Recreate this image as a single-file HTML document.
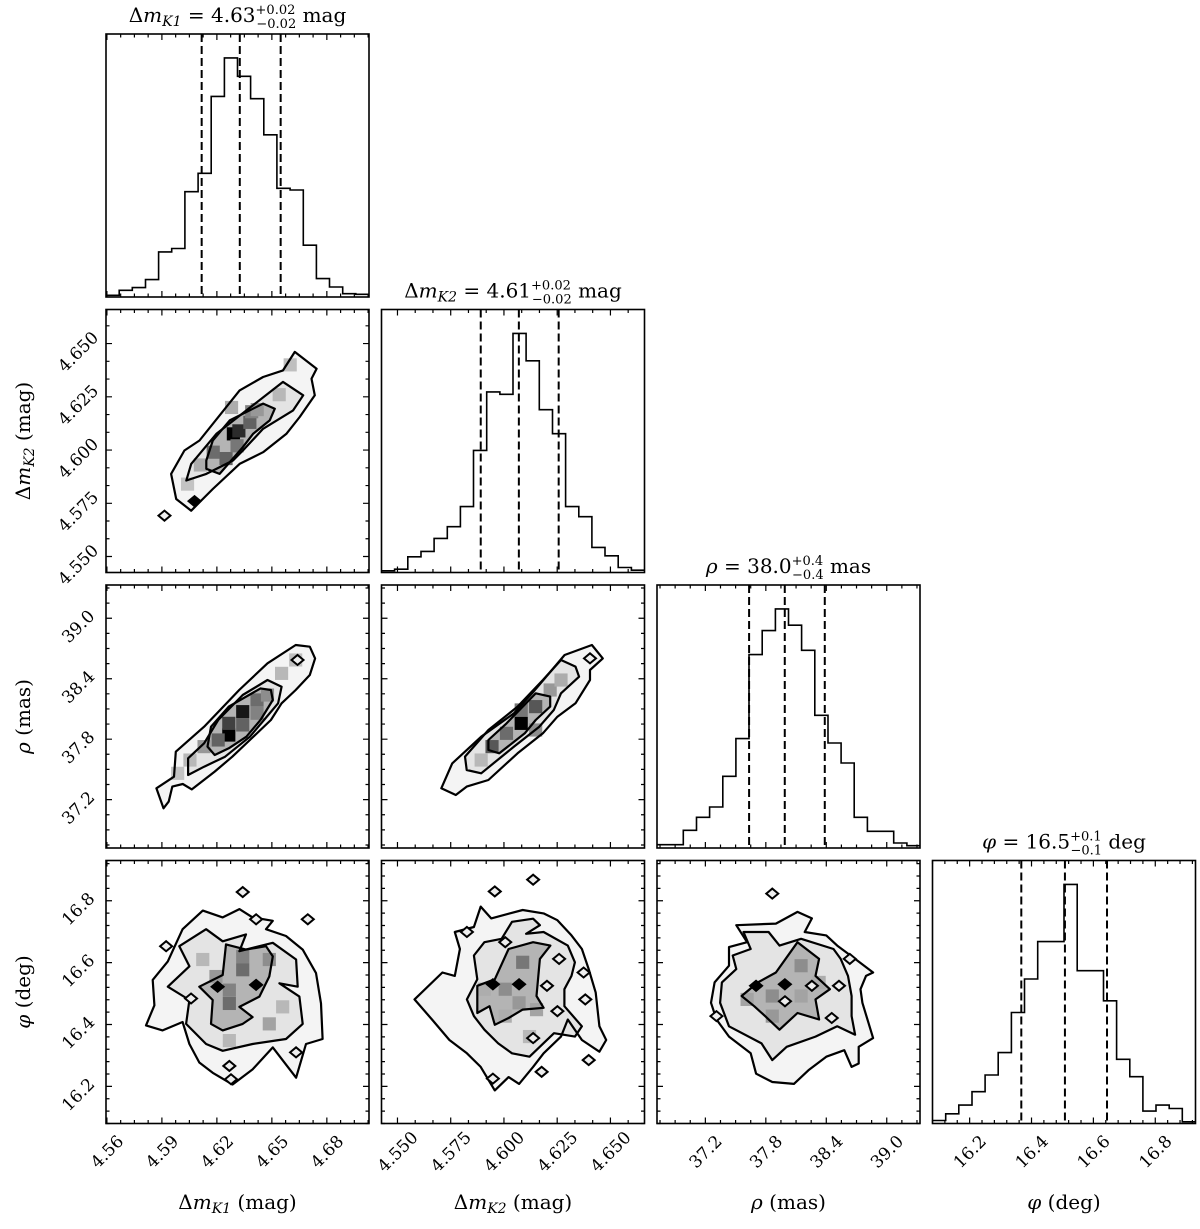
<!DOCTYPE html>
<html><head><meta charset="utf-8"><style>
html,body{margin:0;padding:0;background:#fff}
svg{display:block}
text{font-family:"DejaVu Serif","Liberation Serif",serif;fill:#000}
</style></head>
<body>
<svg id="fig" width="1200" height="1229" viewBox="0 0 1200 1229" xmlns="http://www.w3.org/2000/svg"></svg>
<script>
// ---- data ----
const varNames = ["dmK1","dmK2","rho","phi"];
const rangeK1 = [4.5595, 4.703];
const rangeK2 = [4.5425, 4.666];
const rangeRho = [36.72, 39.33];
const rangePhi = [16.08, 16.93];
const ticksK1 = [4.56,4.59,4.62,4.65,4.68];
const ticksK2 = [4.550,4.575,4.600,4.625,4.650];
const ticksRho = [37.2,37.8,38.4,39.0];
const ticksPhi = [16.2,16.4,16.6,16.8];
const tickLabelsK1 = ["4.56","4.59","4.62","4.65","4.68"];
const tickLabelsK2 = ["4.550","4.575","4.600","4.625","4.650"];
const tickLabelsRho = ["37.2","37.8","38.4","39.0"];
const tickLabelsPhi = ["16.2","16.4","16.6","16.8"];
const histK1 = [5,20,28,52,135,145,315,370,600,715,660,593,485,325,320,155,55,30,10,8];
const histK2 = [5,10,47,63,102,137,197,365,540,533,715,633,487,415,197,167,75,50,15,7];
const histRho = [10,10,53,92,123,215,328,580,652,717,668,593,398,315,255,92,50,50,15,7];
const histPhi = [9,29,55,95,145,212,332,432,544,544,715,457,457,367,192,140,37,55,45,5];
const quantK1 = [4.6117,4.6325,4.6548];
const quantK2 = [4.5891,4.6070,4.6257];
const quantRho = [37.634,37.988,38.385];
const quantPhi = [16.367,16.508,16.644];

// panel K1-K2
const c12Outer = [[4.5950,4.5888],[4.6023,4.5998],[4.6105,4.6045],[4.6324,4.6280],[4.6452,4.6343],[4.6561,4.6374],[4.6625,4.6461],[4.6744,4.6382],[4.6716,4.6335],[4.6734,4.6257],[4.6652,4.6155],[4.6579,4.6076],[4.6452,4.5990],[4.6324,4.5935],[4.6178,4.5817],[4.6115,4.5763],[4.6060,4.5715],[4.5978,4.5770]];
const c12Mid = [[4.6033,4.5857],[4.6060,4.5935],[4.6197,4.6076],[4.6361,4.6186],[4.6561,4.6320],[4.6671,4.6257],[4.6616,4.6186],[4.6452,4.6100],[4.6342,4.5998],[4.6288,4.5951],[4.6142,4.5888]];
const c12In = [[4.6142,4.5951],[4.6178,4.6045],[4.6270,4.6139],[4.6452,4.6218],[4.6516,4.6194],[4.6488,4.6139],[4.6397,4.6076],[4.6342,4.6014],[4.6215,4.5888],[4.6142,4.5912]];
const c12Cells = [[4.6290,4.6076,1.0],[4.6320,4.6090,0.8],[4.6250,4.5960,0.55],[4.6180,4.5990,0.5],[4.6380,4.6130,0.55],[4.6390,4.6180,0.4],[4.6310,4.6020,0.45],[4.6420,4.6190,0.3],[4.6110,4.5930,0.2],[4.6540,4.6260,0.15],[4.6600,4.6400,0.12],[4.6040,4.5840,0.1],[4.6280,4.6200,0.2]];
const c12Marks = [[4.5914,4.5692,0],[4.6078,4.5760,1]];

// panel K1-rho
const c13Outer = [[4.5909,37.114],[4.5870,37.312],[4.5966,37.428],[4.5976,37.676],[4.6130,37.924],[4.6322,38.288],[4.6476,38.553],[4.6630,38.735],[4.6707,38.718],[4.6736,38.602],[4.6707,38.437],[4.6630,38.288],[4.6553,38.156],[4.6495,37.990],[4.6380,37.792],[4.6284,37.626],[4.6188,37.478],[4.6063,37.302],[4.6014,37.355],[4.5957,37.329],[4.5937,37.180]];
const c13Mid = [[4.6043,37.444],[4.6043,37.610],[4.6130,37.759],[4.6207,37.990],[4.6341,38.238],[4.6476,38.387],[4.6553,38.321],[4.6534,38.156],[4.6457,37.990],[4.6380,37.825],[4.6245,37.626],[4.6130,37.527]];
const c13In = [[4.6149,37.726],[4.6168,37.924],[4.6265,38.123],[4.6438,38.304],[4.6495,38.288],[4.6505,38.189],[4.6438,37.990],[4.6361,37.825],[4.6265,37.709],[4.6188,37.643]];
const c13Cells = [[4.6265,37.841,1],[4.6341,38.073,0.9],[4.6265,37.957,0.7],[4.6341,37.941,0.55],[4.6207,37.792,0.55],[4.6419,38.189,0.5],[4.6419,38.057,0.4],[4.6476,38.238,0.35],[4.6130,37.726,0.3],[4.6053,37.593,0.15],[4.6553,38.453,0.15],[4.6630,38.586,0.12],[4.5986,37.461,0.1]];
const c13Marks = [[4.6640,38.586,0]];

// panel K2-rho
const c23Outer = [[4.5706,37.312],[4.5757,37.560],[4.5893,37.825],[4.6047,38.057],[4.6132,38.255],[4.6285,38.635],[4.6413,38.735],[4.6464,38.602],[4.6404,38.486],[4.6404,38.387],[4.6336,38.156],[4.6251,38.023],[4.6183,37.858],[4.6064,37.660],[4.5927,37.395],[4.5825,37.329],[4.5774,37.246]];
const c23Mid = [[4.5817,37.627],[4.5927,37.891],[4.6064,38.123],[4.6183,38.387],[4.6268,38.586],[4.6336,38.520],[4.6353,38.420],[4.6268,38.255],[4.6234,38.090],[4.6166,37.924],[4.6047,37.726],[4.5893,37.461],[4.5825,37.494]];
const c23In = [[4.5927,37.693],[4.5927,37.792],[4.6012,37.957],[4.6149,38.255],[4.6217,38.222],[4.6217,38.123],[4.6149,37.990],[4.6098,37.858],[4.5978,37.660]];
const c23Cells = [[4.6081,37.957,1],[4.6149,38.123,0.6],[4.6012,37.858,0.5],[4.5944,37.726,0.6],[4.6081,38.090,0.45],[4.6217,38.288,0.3],[4.6268,38.387,0.2],[4.5893,37.593,0.15],[4.6149,37.891,0.35]];
const c23Marks = [[4.6404,38.602,0]];

// panel K1-phi
const c14Outer = [[4.5813,16.397],[4.5859,16.462],[4.5850,16.544],[4.5932,16.604],[4.6013,16.708],[4.6123,16.768],[4.6232,16.746],[4.6323,16.773],[4.6395,16.746],[4.6505,16.735],[4.6468,16.708],[4.6577,16.686],[4.6668,16.642],[4.6741,16.566],[4.6768,16.468],[4.6777,16.353],[4.6686,16.337],[4.6632,16.228],[4.6505,16.326],[4.6395,16.255],[4.6286,16.206],[4.6177,16.244],[4.6104,16.277],[4.6050,16.337],[4.6013,16.408],[4.5904,16.381]];
const c14Mid = [[4.5932,16.522],[4.6050,16.588],[4.5995,16.653],[4.6141,16.708],[4.6232,16.669],[4.6359,16.691],[4.6323,16.637],[4.6505,16.664],[4.6632,16.610],[4.6641,16.522],[4.6541,16.533],[4.6650,16.490],[4.6668,16.402],[4.6577,16.353],[4.6395,16.337],[4.6232,16.315],[4.6141,16.337],[4.6032,16.402],[4.6050,16.479]];
const c14In = [[4.6104,16.522],[4.6232,16.560],[4.6250,16.659],[4.6359,16.642],[4.6468,16.653],[4.6505,16.620],[4.6486,16.555],[4.6432,16.490],[4.6323,16.457],[4.6395,16.424],[4.6341,16.402],[4.6232,16.381],[4.6168,16.402],[4.6177,16.479]];
const c14Cells = [[4.6268,16.468,0.5],[4.6341,16.577,0.5],[4.6268,16.511,0.4],[4.6341,16.620,0.4],[4.6486,16.610,0.35],[4.6486,16.402,0.25],[4.6195,16.555,0.3],[4.6268,16.348,0.15],[4.6559,16.457,0.15],[4.6123,16.610,0.15]];
const c14Marks = [[4.6341,16.828,0],[4.6414,16.740,0],[4.6696,16.740,0],[4.5923,16.653,0],[4.6059,16.484,0],[4.6632,16.310,0],[4.6268,16.266,0],[4.6277,16.223,0],[4.6204,16.522,1],[4.6414,16.528,1]];

// panel K2-phi
const c24Outer = [[4.5580,16.481],[4.5711,16.568],[4.5769,16.557],[4.5793,16.644],[4.5769,16.699],[4.5859,16.715],[4.5891,16.781],[4.5940,16.743],[4.6088,16.770],[4.6186,16.759],[4.6251,16.737],[4.6317,16.688],[4.6366,16.644],[4.6398,16.579],[4.6431,16.503],[4.6448,16.394],[4.6480,16.350],[4.6448,16.312],[4.6366,16.350],[4.6300,16.416],[4.6268,16.361],[4.6186,16.307],[4.6137,16.263],[4.6071,16.208],[4.6022,16.230],[4.5957,16.187],[4.5891,16.263],[4.5826,16.307],[4.5744,16.350],[4.5662,16.416]];
const c24Mid = [[4.5826,16.481],[4.5875,16.546],[4.5859,16.623],[4.5908,16.666],[4.5989,16.677],[4.6038,16.732],[4.6137,16.742],[4.6169,16.721],[4.6104,16.693],[4.6186,16.699],[4.6300,16.655],[4.6333,16.601],[4.6317,16.557],[4.6284,16.514],[4.6284,16.459],[4.6366,16.394],[4.6333,16.361],[4.6235,16.372],[4.6120,16.296],[4.6038,16.307],[4.5973,16.339],[4.5908,16.383],[4.5859,16.427]];
const c24In = [[4.5875,16.525],[4.5957,16.546],[4.6022,16.644],[4.6137,16.666],[4.6218,16.655],[4.6169,16.612],[4.6153,16.492],[4.6186,16.454],[4.6088,16.448],[4.6022,16.421],[4.5957,16.399],[4.5932,16.459],[4.5875,16.437]];
const c24Cells = [[4.6088,16.601,0.45],[4.6071,16.470,0.3],[4.6006,16.514,0.35],[4.6153,16.448,0.25],[4.6006,16.427,0.2],[4.6120,16.361,0.15],[4.5908,16.514,0.2]];
const c24Marks = [[4.6137,16.868,0],[4.5957,16.830,0],[4.5826,16.699,0],[4.6006,16.666,0],[4.6259,16.612,0],[4.6374,16.568,0],[4.6382,16.481,0],[4.6251,16.443,0],[4.6137,16.356,0],[4.6398,16.285,0],[4.6177,16.247,0],[4.5948,16.225,0],[4.5948,16.530,1],[4.6202,16.525,0],[4.6071,16.530,1]];

// panel rho-phi
const c34Outer = [[37.435,16.650],[37.614,16.666],[37.507,16.721],[37.900,16.726],[38.114,16.764],[38.257,16.743],[38.186,16.699],[38.400,16.688],[38.508,16.655],[38.686,16.612],[38.865,16.568],[38.794,16.557],[38.740,16.514],[38.758,16.470],[38.865,16.356],[38.722,16.328],[38.722,16.274],[38.651,16.263],[38.579,16.317],[38.400,16.296],[38.222,16.252],[38.079,16.208],[37.864,16.214],[37.703,16.241],[37.650,16.307],[37.435,16.361],[37.310,16.416],[37.256,16.470],[37.292,16.536],[37.435,16.590]];
const c34Mid = [[37.364,16.536],[37.507,16.579],[37.471,16.623],[37.650,16.644],[37.578,16.699],[37.828,16.699],[37.936,16.655],[38.150,16.677],[38.472,16.644],[38.543,16.612],[38.615,16.557],[38.651,16.492],[38.651,16.427],[38.686,16.367],[38.508,16.394],[38.293,16.361],[38.007,16.328],[37.864,16.285],[37.757,16.339],[37.435,16.394],[37.346,16.470]];
const c34In = [[37.560,16.492],[37.721,16.536],[37.900,16.568],[38.114,16.666],[38.329,16.612],[38.293,16.557],[38.436,16.514],[38.293,16.481],[38.329,16.416],[38.114,16.437],[37.936,16.383],[37.793,16.427],[37.685,16.459]];
const c34Cells = [[37.864,16.492,0.35],[38.150,16.590,0.35],[37.864,16.427,0.3],[38.150,16.492,0.25],[38.329,16.536,0.2],[37.614,16.481,0.25]];
const c34Marks = [[37.864,16.823,0],[38.633,16.612,0],[38.454,16.421,0],[37.310,16.427,0],[37.703,16.525,1],[38.257,16.525,0],[38.526,16.525,0],[37.990,16.475,0],[37.989,16.530,1]];

// ---- layout ----
const NS = "http://www.w3.org/2000/svg";
const svg = document.getElementById("fig");
const colX = [106, 381.5, 657, 932.5];
const rowY = [34, 309.5, 585, 860.5];
const S = 263;
const ranges = [rangeK1, rangeK2, rangeRho, rangePhi];
const ticks = [ticksK1, ticksK2, ticksRho, ticksPhi];
const tickLabels = [tickLabelsK1, tickLabelsK2, tickLabelsRho, tickLabelsPhi];
const minorDiv = [4, 3, 4, 5];
const hists = [histK1, histK2, histRho, histPhi];
const quants = [quantK1, quantK2, quantRho, quantPhi];

function el(tag, attrs, parent) {
  const e = document.createElementNS(NS, tag);
  for (const k in attrs) e.setAttribute(k, attrs[k]);
  (parent || svg).appendChild(e);
  return e;
}
function sx(v, i, col) { const r = ranges[i]; return colX[col] + (v - r[0]) / (r[1] - r[0]) * S; }
function sy(v, i, row) { const r = ranges[i]; return rowY[row] + S - (v - r[0]) / (r[1] - r[0]) * S; }

function drawTicks(g, x0, y0, i, horizontal) {
  const r = ranges[i], t = ticks[i], step = t[1] - t[0], ms = step / minorDiv[i];
  const vals = [];
  let start = t[0] - Math.ceil((t[0] - r[0]) / ms) * ms;
  for (let v = start; v <= r[1] + 1e-9; v += ms) {
    if (v < r[0] - 1e-9) continue;
    const isMajor = t.some(tt => Math.abs(tt - v) < ms * 0.2);
    vals.push([v, isMajor]);
  }
  let d = "";
  for (const [v, maj] of vals) {
    const L = maj ? 6 : 3.5;
    if (horizontal) {
      const x = x0 + (v - r[0]) / (r[1] - r[0]) * S;
      d += `M${x},${y0 + S}v${-L}M${x},${y0}v${L}`;
    } else {
      const y = y0 + S - (v - r[0]) / (r[1] - r[0]) * S;
      d += `M${x0},${y}h${L}M${x0 + S},${y}h${-L}`;
    }
  }
  const p = el("path", {d: d, stroke: "#000", "stroke-width": 1.2, fill: "none"}, g);
  
  
}

function poly(pts, ix, iy, col, row, attrs, g, name) {
  const d = pts.map((p, k) => (k ? "L" : "M") + sx(p[0], ix, col).toFixed(1) + "," + sy(p[1], iy, row).toFixed(1)).join("") + "Z";
  const p = el("path", Object.assign({d: d}, attrs), g);
  
  
}

// histograms
const titles = [
  ["Δ", "m", "K1", "4.63", "+0.02", "−0.02", "mag"],
  ["Δ", "m", "K2", "4.61", "+0.02", "−0.02", "mag"],
  ["", "ρ", "", "38.0", "+0.4", "−0.4", "mas"],
  ["", "φ", "", "16.5", "+0.1", "−0.1", "deg"]
];
for (let i = 0; i < 4; i++) {
  const g = el("g", {});
  
  
  const x0 = colX[i], y0 = rowY[i];
  const h = hists[i], mx = Math.max(...h) * 1.1, r = ranges[i], bw = (r[1] - r[0]) / h.length;
  let d = "";
  for (let k = 0; k < h.length; k++) {
    const xa = sx(r[0] + k * bw, i, i), xb = sx(r[0] + (k + 1) * bw, i, i);
    const y = y0 + S - h[k] / mx * S;
    d += (k ? "L" : "M") + xa.toFixed(1) + "," + y.toFixed(1) + "L" + xb.toFixed(1) + "," + y.toFixed(1);
  }
  const hp = el("path", {d: d, stroke: "#000", "stroke-width": 1.6, fill: "none"}, g);
  
  
  for (const q of quants[i]) {
    const x = sx(q, i, i);
    const ql = el("line", {x1: x, x2: x, y1: y0, y2: y0 + S, stroke: "#000", "stroke-width": 2, "stroke-dasharray": "8,4"}, g);
    
    
  }
  drawTicks(g, x0, y0, i, true);
  const fr = el("rect", {x: x0, y: y0, width: S, height: S, fill: "none", stroke: "#000", "stroke-width": 1.6}, g);
  
  
  const t = titles[i];
  const tx = el("text", {x: x0 + S / 2, y: y0 - 12, "text-anchor": "middle", "font-size": 20}, g);
  
  
  tx.innerHTML = `${t[0]}<tspan font-style="italic">${t[1]}</tspan><tspan font-size="14" dy="4" font-style="italic">${t[2]}</tspan><tspan dy="${t[2] ? -4 : 0}">  = ${t[3]}</tspan><tspan font-size="13" dy="-8">${t[4]}</tspan><tspan font-size="13" dx="-${t[4].length * 7.8}" dy="14">${t[5]}</tspan><tspan dy="-6"> ${t[6]}</tspan>`;
}

// 2D panels
const panels = [
  [0, 1, c12Outer, c12Mid, c12In, c12Cells, c12Marks],
  [0, 2, c13Outer, c13Mid, c13In, c13Cells, c13Marks],
  [1, 2, c23Outer, c23Mid, c23In, c23Cells, c23Marks],
  [0, 3, c14Outer, c14Mid, c14In, c14Cells, c14Marks],
  [1, 3, c24Outer, c24Mid, c24In, c24Cells, c24Marks],
  [2, 3, c34Outer, c34Mid, c34In, c34Cells, c34Marks]
];
for (const [ix, iy, outer, mid, inner, cells, marks] of panels) {
  const col = ix, row = iy, x0 = colX[col], y0 = rowY[row];
  const g = el("g", {});
  
  
  const cp = el("clipPath", {id: "cp" + ix + iy}, g);
  el("rect", {x: x0, y: y0, width: S, height: S}, cp);
  const inner_g = el("g", {"clip-path": `url(#cp${ix}${iy})`}, g);
  poly(outer, ix, iy, col, row, {fill: "#f4f4f4", stroke: "none"}, inner_g, 'density-fill-outer');
  poly(mid, ix, iy, col, row, {fill: "#e4e4e4", stroke: "none"}, inner_g, 'density-fill-mid');
  poly(inner, ix, iy, col, row, {fill: "#b4b4b4", stroke: "none"}, inner_g, 'density-fill-inner');
  const bwx = S / 20;
  const bwy = S / 20;
  for (const c of cells) {
    const gv = Math.round(255 * (1 - c[2]) * 0.85);
    const cr = el("rect", {x: sx(c[0], ix, col) - bwx / 2, y: sy(c[1], iy, row) - bwy / 2, width: bwx, height: bwy, fill: `rgb(${gv},${gv},${gv})`}, inner_g);
    
    
  }
  poly(outer, ix, iy, col, row, {fill: "none", stroke: "#000", "stroke-width": 2.2, "stroke-linejoin": "round"}, inner_g, 'contour-outer');
  poly(mid, ix, iy, col, row, {fill: "none", stroke: "#000", "stroke-width": 2.2, "stroke-linejoin": "round"}, inner_g, 'contour-middle');
  poly(inner, ix, iy, col, row, {fill: "none", stroke: "#000", "stroke-width": 2.2, "stroke-linejoin": "round"}, inner_g, 'contour-inner');
  for (const m of marks) {
    const x = sx(m[0], ix, col), y = sy(m[1], iy, row);
    const dm = el("path", {d: `M${x - 6},${y}L${x},${y - 5}L${x + 6},${y}L${x},${y + 5}Z`, fill: m[2] ? "#000" : "#eee", stroke: "#000", "stroke-width": 2}, inner_g);
    
    
  }
  drawTicks(g, x0, y0, ix, true);
  drawTicks(g, x0, y0, iy, false);
  const fr = el("rect", {x: x0, y: y0, width: S, height: S, fill: "none", stroke: "#000", "stroke-width": 1.6}, g);
  
  
}

// tick labels: bottom row x, left column y (centered on tick, rotated 45deg)
for (let i = 0; i < 4; i++) {
  for (let k = 0; k < ticks[i].length; k++) {
    const x = sx(ticks[i][k], i, i), y = rowY[3] + S + 28;
    const t = el("text", {x: 0, y: 6, "text-anchor": "middle", "font-size": 17, transform: `translate(${x},${y}) rotate(-45)`});
    
    
    t.textContent = tickLabels[i][k];
  }
}
for (let i = 1; i < 4; i++) {
  for (let k = 0; k < ticks[i].length; k++) {
    const y = sy(ticks[i][k], i, i), x = colX[0] - 28;
    const t = el("text", {x: 0, y: 6, "text-anchor": "middle", "font-size": 17, transform: `translate(${x},${y + 8}) rotate(-45)`});
    
    
    t.textContent = tickLabels[i][k];
  }
}
// axis labels
const axisLabels = [
  'Δ<tspan font-style="italic">m</tspan><tspan font-size="14" dy="4" font-style="italic">K1</tspan><tspan dy="-4"> (mag)</tspan>',
  'Δ<tspan font-style="italic">m</tspan><tspan font-size="14" dy="4" font-style="italic">K2</tspan><tspan dy="-4"> (mag)</tspan>',
  '<tspan font-style="italic">ρ</tspan> (mas)',
  '<tspan font-style="italic">φ</tspan> (deg)'
];
for (let i = 0; i < 4; i++) {
  const t = el("text", {x: colX[i] + S / 2, y: 1209, "text-anchor": "middle", "font-size": 20});
  
  
  t.innerHTML = axisLabels[i];
  if (i > 0) {
    const ty = el("text", {x: 0, y: 0, "text-anchor": "middle", "font-size": 20, transform: `translate(30,${rowY[i] + S / 2}) rotate(-90)`});
    
    
    ty.innerHTML = axisLabels[i];
  }
}
</script>
</body></html>
